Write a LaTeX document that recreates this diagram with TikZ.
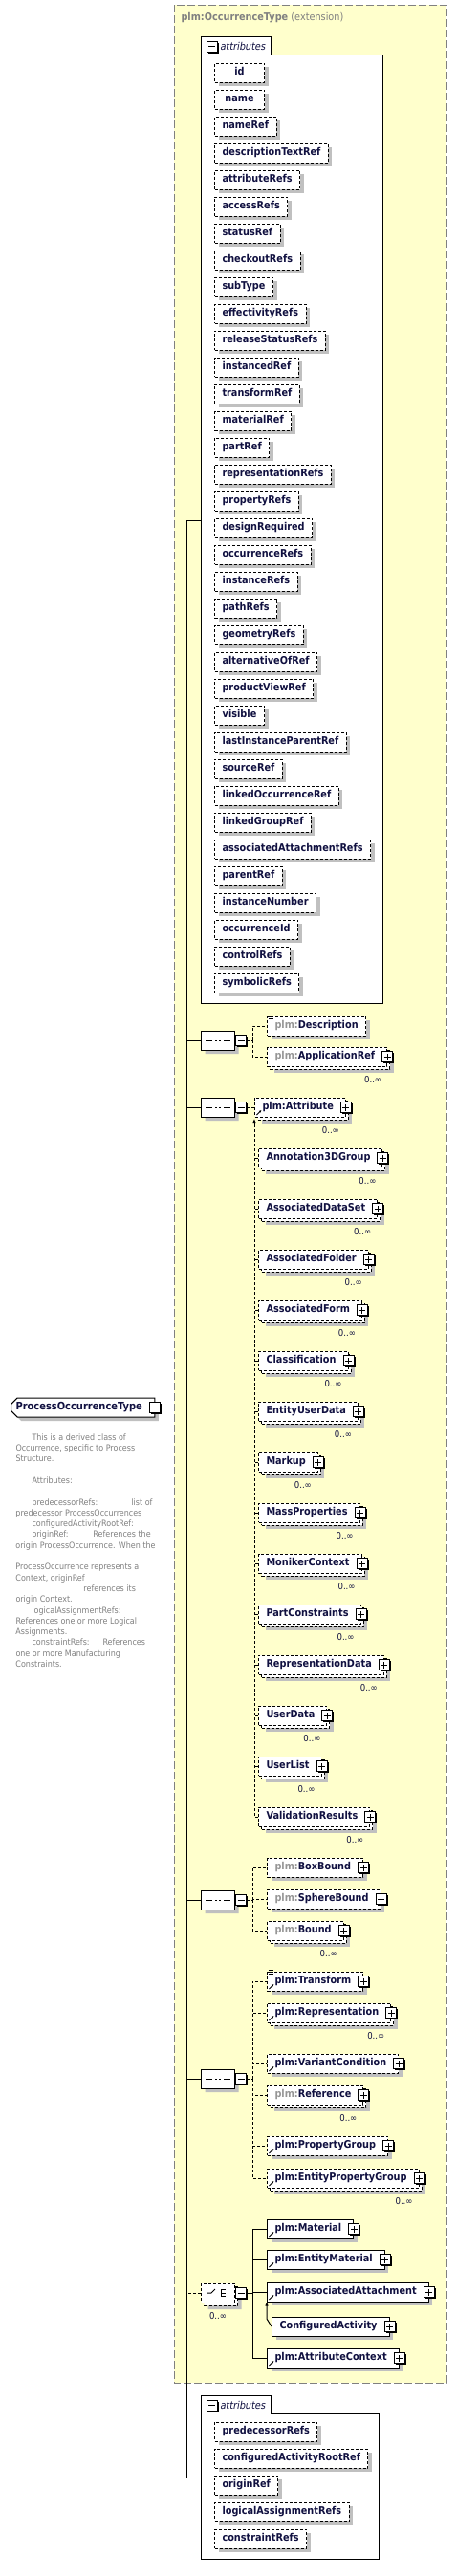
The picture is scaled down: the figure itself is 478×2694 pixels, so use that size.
\documentclass[tikz,border=0pt]{standalone}
\usepackage{fontspec}
\setmainfont{DejaVu Sans}[FakeStretch=0.9]
\usetikzlibrary{shapes.misc,shadows,arrows.meta}

\definecolor{xsdyellow}{RGB}{255,255,204}
\definecolor{xsdgray}{RGB}{128,128,128}
\definecolor{shgray}{RGB}{192,192,192}
\definecolor{xsdtext}{RGB}{16,16,64}
\definecolor{pfxgray}{RGB}{150,150,150}

\newcommand\pfx{\textcolor{pfxgray}{plm:}}

\tikzset{
  lbl/.style={font=\fontsize{10.8}{13}\selectfont\bfseries, text=xsdtext},
  sh/.style={general shadow={shadow xshift=4pt,shadow yshift=-4pt,fill=shgray}},
  multi/.style={general shadow={shadow xshift=7pt,shadow yshift=-7pt,fill=shgray},
    general shadow={shadow xshift=3pt,shadow yshift=-3pt,fill=white,draw=black}},
  opt/.style={dash pattern=on 3pt off 2pt},
  elem/.style={lbl, draw=black, fill=white, anchor=west, minimum height=20pt,
    inner xsep=8pt, inner ysep=0pt, text height=8pt, text depth=2.5pt},
  attr/.style={elem, opt, sh, minimum width=52pt},
  expand/.style={execute at end node={\hspace{4.5pt}}},
  refd/.style={path picture={\draw[solid,line width=.8pt,-{Latex[length=2.5pt,width=2.5pt]}]
    ([shift={(2pt,2pt)}]path picture bounding box.south west) -- ++(5pt,5pt);}},
  btn/.style={draw=black, solid, fill=white, minimum size=11pt, inner sep=0pt,
    general shadow={shadow xshift=1.5pt,shadow yshift=-1.5pt,fill=black}},
  minusbtn/.style={btn, path picture={\draw[solid] (path picture bounding box.center)
    +(-3.5pt,0pt) -- +(3.5pt,0pt);}},
  plusbtn/.style={btn, path picture={\draw[solid] (path picture bounding box.center)
    +(-3.5pt,0pt) -- +(3.5pt,0pt) +(0pt,-3.5pt) -- +(0pt,3.5pt);}},
  comp/.style={chamfered rectangle, chamfered rectangle xsep=5pt, draw=black, fill=white,
    minimum width=35pt, minimum height=20pt, inner sep=0pt, anchor=west},
  seqc/.style={comp, sh, path picture={
    \draw[solid] (path picture bounding box.center) +(-13pt,0pt) -- +(13pt,0pt);
    \foreach \d in {-4.5,0,4.5}
      \fill ([xshift=\d pt]path picture bounding box.center) +(-1.4pt,-1.4pt) rectangle +(1.4pt,1.4pt);}},
  choicec/.style={comp, opt, multi, path picture={
    \draw[solid] (path picture bounding box.center) +(-12pt,0pt) -- +(-7pt,0pt) -- +(-3pt,4pt);
    \foreach \d in {-3.5,0,3.5}
      \fill ([yshift=\d pt]path picture bounding box.center) +(-.5pt,-1pt) rectangle +(1.5pt,1pt);
    \draw[solid] (path picture bounding box.center) +(8pt,3.5pt) -- +(3.5pt,3.5pt) -- +(3.5pt,-3.5pt)
      -- +(8pt,-3.5pt) +(3.5pt,0pt) -- +(8pt,0pt);}},
  rootbox/.style={chamfered rectangle, chamfered rectangle corners={north west,south west},
    chamfered rectangle xsep=3pt, draw=black, fill=white, sh, anchor=west,
    font=\fontsize{11}{13}\selectfont\bfseries, text=xsdtext, minimum height=20pt,
    inner xsep=2pt, inner ysep=0pt, text height=8pt, text depth=2.5pt,
    execute at end node={\hspace{8pt}}},
  athead/.style={anchor=west, inner sep=0pt, font=\fontsize{10.8}{13}\selectfont\itshape, text=xsdtext},
  mult/.style={font=\fontsize{9.5}{11}\selectfont, text=xsdtext, inner sep=0pt},
  conn/.style={draw=black, line width=1pt},
  dconn/.style={conn, opt},
  upto/.style={-{Latex[length=4pt,width=3.5pt]}},
}

\begin{document}
\begin{tikzpicture}[x=1pt,y=-1pt,line width=1pt]
\useasboundingbox (0,0) rectangle (478,2694);

% extension of plm:OccurrenceType
\draw[xsdgray, dash pattern=on 8pt off 3pt, fill=xsdyellow] (182,5) rectangle (467,2492);
\node[anchor=west, inner sep=0pt, text=xsdgray, font=\fontsize{10.8}{13}\selectfont] (base) at (189,19)
  {\textbf{plm:OccurrenceType} (extension)};

% inherited attributes
\draw[fill=white] (210,38) -- (283,38) -- (283,57) -- (400,57) -- (400,1049) -- (210,1049) -- cycle;
\node[minusbtn] (oam) at (221.5,48.5) {};
\node[athead] (oah) at (230,48) {attributes};
\foreach \a [count=\i from 0] in {id,name,nameRef,descriptionTextRef,attributeRefs,accessRefs,
    statusRef,checkoutRefs,subType,effectivityRefs,releaseStatusRefs,instancedRef,transformRef,
    materialRef,partRef,representationRefs,propertyRefs,designRequired,occurrenceRefs,instanceRefs,
    pathRefs,geometryRefs,alternativeOfRef,productViewRef,visible,lastInstanceParentRef,sourceRef,
    linkedOccurrenceRef,linkedGroupRef,associatedAttachmentRefs,parentRef,instanceNumber,
    occurrenceId,controlRefs,symbolicRefs}
  \node[attr] (oa\i) at (224,{76+28*\i}) {\a};

% own attributes
\draw[fill=white] (210,2505) -- (283,2505) -- (283,2524) -- (396,2524) -- (396,2676) -- (210,2676) -- cycle;
\node[minusbtn] (pam) at (221.5,2515.5) {};
\node[athead] (pah) at (230,2515) {attributes};
\foreach \a [count=\i from 0] in {predecessorRefs,configuredActivityRootRef,originRef,
    logicalAssignmentRefs,constraintRefs}
  \node[attr] (pa\i) at (224,{2543+28*\i}) {\a};

% root type
\node[rootbox] (root) at (11,1472) {ProcessOccurrenceType};
\node[minusbtn] (rootm) at (root.east) {};
\node[anchor=north west, inner sep=0pt, text=xsdgray, align=left,
  font=\fontsize{8.9}{11.3}\selectfont] (rootdoc) at (16,1499) {%
  \hspace*{17pt}This is a derived class of\\
  Occurrence, specific to Process\\
  Structure.\\
  \mbox{}\\
  \hspace*{17pt}Attributes:\\
  \mbox{}\\
  \makebox[121pt][l]{\hspace*{17pt}predecessorRefs:}list of\\
  predecessor ProcessOccurrences\\
  \hspace*{17pt}configuredActivityRootRef:\\
  \makebox[81pt][l]{\hspace*{17pt}originRef:}References the\\
  origin ProcessOccurrence. When the\\
  \mbox{}\\
  ProcessOccurrence represents a\\
  Context, originRef\\
  \hspace*{71pt}references its\\
  origin Context.\\
  \hspace*{17pt}logicalAssignmentRefs:\\
  References one or more Logical\\
  Assignments.\\
  \makebox[91pt][l]{\hspace*{17pt}constraintRefs:}References\\
  one or more Manufacturing\\
  Constraints.};

% trunk
\coordinate (tA) at (195,544);
\coordinate (tB) at (195,2591);
\coordinate (oabox) at (210,544);
\coordinate (pabox) at (210,2591);
\draw[conn] (oabox) -- (tA) -- (tB) -- (pabox);
\draw[conn] (rootm.east) -- (rootm.east -| tA);

% sequence 1
\node[seqc] (sq1) at (210,1088) {};
\node[minusbtn, anchor=west] (sq1m) at (sq1.east) {};
\draw[conn] (sq1.west) -- (sq1.west -| tA);
\node[elem, opt, sh] (desc) at (279,1073) {\pfx Description};
\foreach \d in {-1,1,3}
  \draw[line width=.6pt] ([xshift=2pt,yshift=-\d pt]desc.north west) -- ++(5pt,0pt);
\node[elem, opt, multi, expand] (appref) at (279,1105) {\pfx ApplicationRef};
\node[plusbtn] (apprefp) at (appref.east) {};
\node[mult] (apprefn) at ([xshift=-15pt,yshift=-14pt]appref.south east) {0..∞};
\coordinate (b1) at (264,1088);
\draw[dconn] (sq1m.east) -- (b1) (b1) |- (desc.west) (b1) |- (appref.west);

% sequence 2 with substitution group
\node[seqc] (sq2) at (210,1158) {};
\node[minusbtn, anchor=west] (sq2m) at (sq2.east) {};
\draw[conn] (sq2.west) -- (sq2.west -| tA);
\node[elem, opt, multi, expand, refd] (attr) at (266,1158) {plm:Attribute};
\node[plusbtn] (attrp) at (attr.east) {};
\node[mult] (attrn) at ([xshift=-16pt,yshift=-14pt]attr.south east) {0..∞};
\draw[dconn] (sq2m.east) -- (attr.west);
\foreach \s [count=\i from 0] in {Annotation3DGroup,AssociatedDataSet,AssociatedFolder,
    AssociatedForm,Classification,EntityUserData,Markup,MassProperties,MonikerContext,
    PartConstraints,RepresentationData,UserData,UserList,ValidationResults} {
  \node[elem, opt, multi, expand] (sub\i) at (270,{1211+53*\i}) {\s};
  \node[plusbtn] (subp\i) at (sub\i.east) {};
  \node[mult] (subn\i) at ([xshift=-16pt,yshift=-14pt]sub\i.south east) {0..∞};
  \draw[dconn] (sub\i.west) -- (sub\i.west -| attr.south west);
}
\draw[dconn, upto] (sub13.west) -| ([yshift=-1.5pt]attr.south west);

% sequence 3
\node[seqc] (sq3) at (210,1987) {};
\node[minusbtn, anchor=west] (sq3m) at (sq3.east) {};
\draw[conn] (sq3.west) -- (sq3.west -| tA);
\node[elem, opt, sh, expand] (boxb) at (279,1953) {\pfx BoxBound};
\node[plusbtn] (boxbp) at (boxb.east) {};
\node[elem, opt, sh, expand] (sphb) at (279,1986) {\pfx SphereBound};
\node[plusbtn] (sphbp) at (sphb.east) {};
\node[elem, opt, multi, expand] (bnd) at (279,2019) {\pfx Bound};
\node[plusbtn] (bndp) at (bnd.east) {};
\node[mult] (bndn) at ([xshift=-16pt,yshift=-14pt]bnd.south east) {0..∞};
\coordinate (b3) at (264,1987);
\draw[dconn] (sq3m.east) -- (b3) (b3) |- (boxb.west) (b3) |- (sphb.west) (b3) |- (bnd.west);

% sequence 4
\node[seqc] (sq4) at (210,2174) {};
\node[minusbtn, anchor=west] (sq4m) at (sq4.east) {};
\draw[conn] (sq4.west) -- (sq4.west -| tA);
\node[elem, opt, sh, expand, refd] (tfm) at (279,2072) {plm:Transform};
\node[plusbtn] (tfmp) at (tfm.east) {};
\foreach \d in {-1,1,3}
  \draw[line width=.6pt] ([xshift=2pt,yshift=-\d pt]tfm.north west) -- ++(5pt,0pt);
\node[elem, opt, multi, expand, refd] (rep) at (279,2105) {plm:Representation};
\node[plusbtn] (repp) at (rep.east) {};
\node[mult] (repn) at ([xshift=-16pt,yshift=-14pt]rep.south east) {0..∞};
\node[elem, opt, sh, expand, refd] (vcond) at (279,2158) {plm:VariantCondition};
\node[plusbtn] (vcondp) at (vcond.east) {};
\node[elem, opt, multi, expand] (refr) at (279,2191) {\pfx Reference};
\node[plusbtn] (refrp) at (refr.east) {};
\node[mult] (refrn) at ([xshift=-16pt,yshift=-14pt]refr.south east) {0..∞};
\node[elem, opt, sh, expand, refd] (pgrp) at (279,2244) {plm:PropertyGroup};
\node[plusbtn] (pgrpp) at (pgrp.east) {};
\node[elem, opt, multi, expand, refd] (epgrp) at (279,2278) {plm:EntityPropertyGroup};
\node[plusbtn] (epgrpp) at (epgrp.east) {};
\node[mult] (epgrpn) at ([xshift=-16pt,yshift=-14pt]epgrp.south east) {0..∞};
\coordinate (b4) at (264,2174);
\draw[dconn] (sq4m.east) -- (b4) (b4) |- (tfm.west) (b4) |- (rep.west) (b4) |- (vcond.west)
  (b4) |- (refr.west) (b4) |- (pgrp.west) (b4) |- (epgrp.west);

% choice
\node[choicec] (ch) at (210,2398) {};
\node[minusbtn, anchor=west] (chm) at (ch.east) {};
\node[mult] (chn) at ([yshift=-14pt]ch.south) {0..∞};
\draw[dconn] (ch.west) -- (ch.west -| tA);
\node[elem, sh, expand, refd] (mat) at (279,2331) {plm:Material};
\node[plusbtn] (matp) at (mat.east) {};
\node[elem, sh, expand, refd] (emat) at (279,2363) {plm:EntityMaterial};
\node[plusbtn] (ematp) at (emat.east) {};
\node[elem, sh, expand, refd] (aatt) at (279,2397) {plm:AssociatedAttachment};
\node[plusbtn] (aattp) at (aatt.east) {};
\node[elem, sh, expand] (cact) at (284,2433) {ConfiguredActivity};
\node[plusbtn] (cactp) at (cact.east) {};
\node[elem, sh, expand, refd] (actx) at (279,2466) {plm:AttributeContext};
\node[plusbtn] (actxp) at (actx.east) {};
\coordinate (b5) at (264,2398);
\draw[conn] (chm.east) -- (b5) (b5) |- (mat.west) (b5) |- (emat.west) (b5) |- (aatt.west)
  (b5) |- (actx.west);
\draw[conn, upto] (cact.west) -- ++(-5,-8) -- (aatt.south west);
\end{tikzpicture}
\end{document}
